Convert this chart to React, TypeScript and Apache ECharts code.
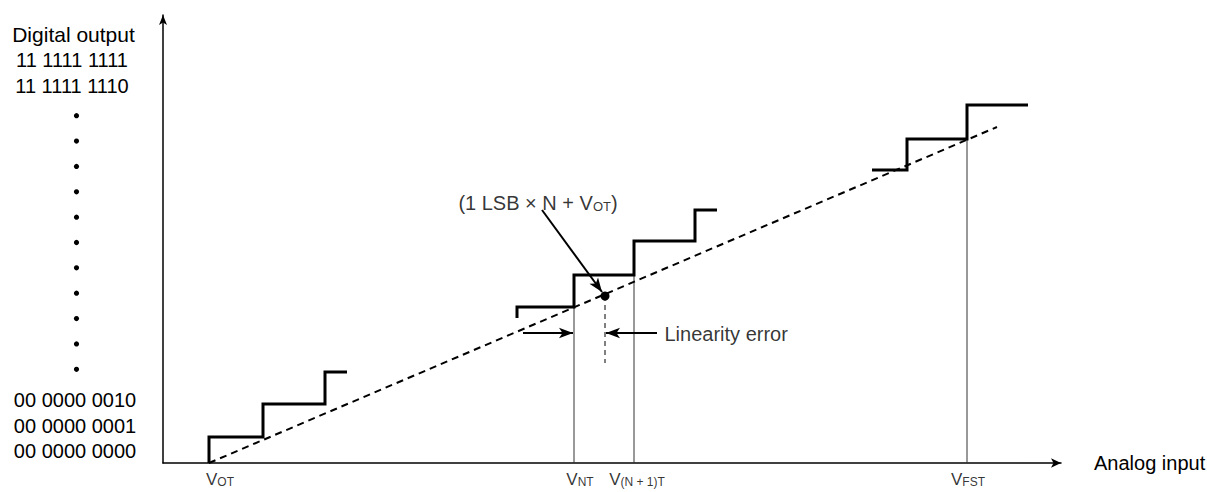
import React, { useEffect, useRef } from "react";
import * as echarts from "echarts";

// Data space: x = analog input (arbitrary units), y = digital code level (arbitrary units)
const stepsLow: number[][] = [[46, 0], [46, 26], [100, 26], [100, 59], [162, 59], [162, 91], [184, 91]];
const stepsMid: number[][] = [[354, 145], [354, 156], [411, 156], [411, 188], [471, 188], [471, 222], [532, 222], [532, 253], [554, 253]];
const stepsHigh: number[][] = [[709, 293], [744, 293], [744, 324], [804, 324], [804, 358], [865, 358]];
const idealLine: number[][] = [[46, 0], [834, 336]];

const thresholdNames = ["OT", "NT", "(N + 1)T", "FST"];
const thresholdX = [46, 411, 471, 804];
const thresholdTop = [0, 156, 188, 324];

const idealPoint: number[] = [442, 167];
const dropLine: number[][] = [[442, 167], [442, 100]];
const pointerLine: number[][] = [[379, 253], [439, 171]];
const errorArrowLeft: number[][] = [[360, 130], [410, 130]];
const errorArrowRight: number[][] = [[494, 130], [443, 130]];
const formulaAnchor: number[] = [375, 261];
const errorLabelAnchor: number[] = [501, 130];

const yTitle = "Digital output";
const yLabelsTop = ["11 1111 1111", "11 1111 1110"];
const yLabelsBottom = ["00 0000 0010", "00 0000 0001", "00 0000 0000"];
const ellipsisDotCount = 11;
const xTitle = "Analog input";

const FONT = "'Liberation Sans', Arial, Helvetica, sans-serif";

export default function App() {
  const ref = useRef<HTMLDivElement>(null);
  useEffect(() => {
    const chart = echarts.init(ref.current!, undefined, { renderer: "svg" });

    const textEl = (text: string, x: number, y: number, size = 20, align = "center") => ({
      type: "text",
      silent: true,
      style: {
        text,
        x,
        y,
        fill: "#000",
        fontSize: size,
        fontFamily: FONT,
        textAlign: align,
        align,
        textVerticalAlign: "middle",
        verticalAlign: "middle",
      },
    });

    const graphics: any[] = [];
    graphics.push(textEl(yTitle, 73.5, 34, 21));
    const topY = [60, 85.5];
    yLabelsTop.forEach((t, i) => graphics.push(textEl(t, 72, topY[i])));
    for (let i = 0; i < ellipsisDotCount; i++) {
      graphics.push({
        type: "circle",
        silent: true,
        shape: { cx: 76.5, cy: 115.7 + i * 25.36, r: 2.6 },
        style: { fill: "#000" },
      });
    }
    const botY = [400, 426, 450.5];
    yLabelsBottom.forEach((t, i) => graphics.push(textEl(t, 75, botY[i])));
    graphics.push(textEl(xTitle, 1094, 463, 20, "left"));

    const blackLine = (data: number[][], width: number, type: any = "solid") => ({
      type: "line",
      data,
      showSymbol: false,
      symbol: "none",
      clip: false,
      silent: true,
      lineStyle: { color: "#000", width, type, join: "miter", cap: "butt" },
    });

    const thinVerticals = thresholdX
      .map((x, i) => ({ x, top: thresholdTop[i] }))
      .filter((d) => d.top > 0)
      .map((d) => ({
        ...blackLine([[d.x, 0], [d.x, d.top]], 1),
        lineStyle: { color: "#333", width: 1 },
      }));

    const vOffsets = [11, 6, 3, 1];
    const labelItems = thresholdNames.map((n, i) => ({
      value: [thresholdX[i], 0],
      label: {
        show: true,
        position: "bottom",
        distance: 5,
        offset: [vOffsets[i], 0],
        formatter: `{v|V}{s|${n}}`,
      },
    }));

    const richStyles = {
      v: { fontSize: 17, fontFamily: FONT, color: "#000", verticalAlign: "bottom", lineHeight: 19 },
      s: { fontSize: 12, fontFamily: FONT, color: "#000", verticalAlign: "bottom", lineHeight: 15 },
      t: { fontSize: 20, fontFamily: FONT, color: "#000", verticalAlign: "bottom", lineHeight: 22 },
      s2: { fontSize: 13, fontFamily: FONT, color: "#000", verticalAlign: "bottom", lineHeight: 16 },
    };

    const option: any = {
      animation: false,
      backgroundColor: "#fff",
      grid: { left: 163, right: 146, top: 15, bottom: 29, containLabel: false },
      xAxis: {
        type: "value",
        min: 0,
        max: 898,
        axisLine: {
          show: true,
          onZero: false,
          symbol: ["none", "arrow"],
          symbolSize: [7, 10],
          lineStyle: { color: "#000", width: 1.5 },
        },
        axisTick: { show: false },
        axisLabel: { show: false },
        splitLine: { show: false },
      },
      yAxis: {
        type: "value",
        min: 0,
        max: 448,
        axisLine: {
          show: true,
          onZero: false,
          symbol: ["none", "arrow"],
          symbolSize: [6, 10],
          lineStyle: { color: "#000", width: 1.5 },
        },
        axisTick: { show: false },
        axisLabel: { show: false },
        splitLine: { show: false },
      },
      graphic: { elements: graphics },
      series: [
        ...thinVerticals,
        blackLine(idealLine, 2, [7, 5]),
        blackLine(stepsLow, 3),
        blackLine(stepsMid, 3),
        blackLine(stepsHigh, 3),
        {
          ...blackLine(dropLine, 1, [5, 4]),
          markLine: {
            silent: true,
            symbol: ["none", "arrow"],
            symbolSize: [8, 14],
            label: { show: false },
            lineStyle: { color: "#000", width: 2, type: "solid" },
            data: [
              [{ coord: pointerLine[0] }, { coord: pointerLine[1] }],
              [{ coord: errorArrowLeft[0] }, { coord: errorArrowLeft[1] }],
              [{ coord: errorArrowRight[0] }, { coord: errorArrowRight[1] }],
            ],
          },
        },
        {
          type: "scatter",
          data: [idealPoint],
          symbolSize: 9,
          clip: false,
          silent: true,
          itemStyle: { color: "#000", opacity: 1 },
        },
        {
          type: "scatter",
          symbolSize: 1,
          clip: false,
          silent: true,
          itemStyle: { color: "rgba(0,0,0,0)" },
          label: { rich: richStyles },
          data: [
            ...labelItems,
            {
              value: formulaAnchor,
              label: {
                show: true,
                position: "inside",
                formatter: "{t|(1 LSB × N + V}{s2|OT}{t|)}",
              },
            },
            {
              value: errorLabelAnchor,
              label: {
                show: true,
                position: "right",
                distance: 0,
                formatter: "{t|Linearity error}",
              },
            },
          ],
        },
      ],
    };

    chart.setOption(option);
    return () => chart.dispose();
  }, []);

  return (
    <div
      ref={ref}
      style={{ position: "fixed", left: 0, top: 0, width: 1207, height: 492, background: "#fff" }}
    />
  );
}
